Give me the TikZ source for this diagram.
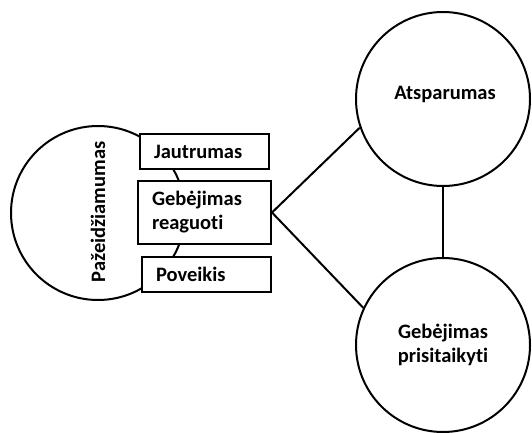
\documentclass[tikz,border=0pt]{standalone}
\usepackage{fontspec}
\setmainfont[Ligatures={NoCommon}]{Carlito}
\begin{document}
\begin{tikzpicture}[x=1pt,y=-1pt,
  every node/.style={font=\bfseries\fontsize{20.5}{24}\selectfont},
  ring/.style={circle,draw,line width=2pt,minimum size=174pt,inner sep=0pt,align=center},
  tag/.style={rectangle,draw,fill=white,line width=2pt,inner xsep=14pt,inner ysep=0pt,align=left},
  link/.style={line width=2pt}]
\useasboundingbox (0,0) rectangle (532,433);
% vulnerability circle with its three components
\node[ring] (vuln) at (98,213) {};
\node[rotate=90] (vulnlabel) at (98,212) {Pažeidžiamumas};
\node[tag,minimum width=129pt,minimum height=35pt,text width=101pt] (sens) at (204.5,151.5) {Jautrumas};
\node[tag,minimum width=133pt,minimum height=63pt,text width=105pt] (react) at (204.5,212.5) {Gebėjimas\\reaguoti};
\node[tag,minimum width=129pt,minimum height=35pt,text width=101pt] (expo) at (206.5,274.5) {Poveikis};
% resilience and adaptive capacity
\node[ring] (resil) at (443,99) {};
\node (resillabel) at (445,94) {Atsparumas};
\node[ring] (adapt) at (443,345) {Gebėjimas\\prisitaikyti};
% connectors
\draw[link] (react.east) -- (resil.199);
\draw[link] (react.east) -- (adapt.155);
\draw[link] (resil.south) -- (adapt.north);
\end{tikzpicture}
\end{document}
